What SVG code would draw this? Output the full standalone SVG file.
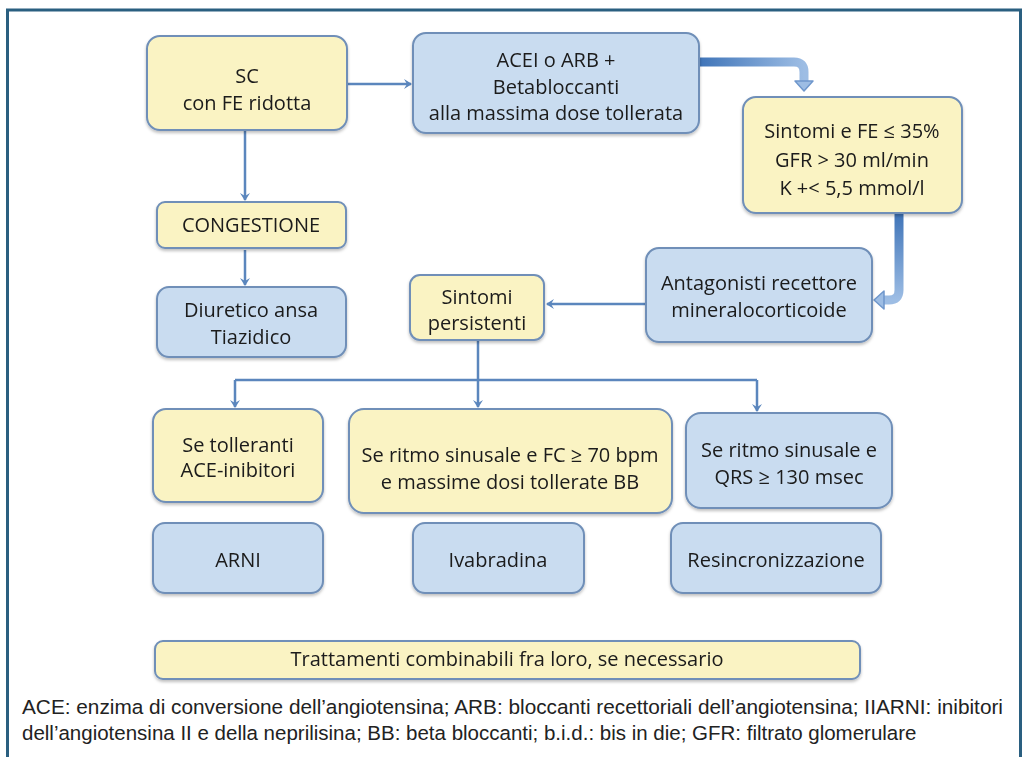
<svg xmlns="http://www.w3.org/2000/svg" width="1027" height="757" viewBox="0 0 1027 757">
<style>
.y{fill:#faf3c3;stroke:#6f8fb8;stroke-width:2}
.b{fill:#c9dcf0;stroke:#6f8fb8;stroke-width:2}
.t{font-family:"Open Sans",Lato,sans-serif;font-size:20px;fill:#1a1a1a;text-anchor:middle}
.c{font-family:"Liberation Sans",Arial,sans-serif;font-size:20.5px;fill:#222}
.ln{fill:none;stroke:#5b86bd;stroke-width:2.5}
</style>
<defs>
<filter id="sh" x="-10%" y="-10%" width="120%" height="130%">
<feDropShadow dx="0" dy="2" stdDeviation="1.5" flood-color="#000" flood-opacity="0.25"/>
</filter>
<marker id="ah" markerWidth="10" markerHeight="10" refX="7" refY="5" orient="auto" markerUnits="userSpaceOnUse">
<path d="M0,0 L8,5 L0,10 L3,5 Z" fill="#5b86bd"/>
</marker>
<linearGradient id="g1" x1="0" y1="0" x2="1" y2="0">
<stop offset="0" stop-color="#3f74b8"/><stop offset="1" stop-color="#9dbde4"/>
</linearGradient>
<linearGradient id="g2" x1="0" y1="0" x2="0" y2="1">
<stop offset="0" stop-color="#3f74b8"/><stop offset="1" stop-color="#9dbde4"/>
</linearGradient>
</defs>
<rect x="0" y="0" width="1027" height="757" fill="#fff"/>
<rect x="7.5" y="10" width="1013" height="800" fill="none" stroke="#2a5f80" stroke-width="3"/>

<g id="connectors">
<line class="ln" x1="347" y1="84" x2="411" y2="84" marker-end="url(#ah)"/>
<line class="ln" x1="245" y1="131" x2="245" y2="200" marker-end="url(#ah)"/>
<line class="ln" x1="245" y1="250" x2="245" y2="285" marker-end="url(#ah)"/>
<line class="ln" x1="646" y1="304" x2="547" y2="304" marker-end="url(#ah)"/>
<path class="ln" d="M478,340 V380 M235,380 H757"/>
<line class="ln" x1="235" y1="380" x2="235" y2="407" marker-end="url(#ah)"/>
<line class="ln" x1="478" y1="380" x2="478" y2="407" marker-end="url(#ah)"/>
<line class="ln" x1="757" y1="380" x2="757" y2="411" marker-end="url(#ah)"/>
<g id="thick1">
<path d="M699,62 H794 Q804,62 804,72 V82" fill="none" stroke="url(#g1)" stroke-width="9"/>
<path d="M795,81 H813 L804,91 Z" fill="#9dbde4" stroke="#6f97cc" stroke-width="1.5" stroke-linejoin="round"/>
</g>
<g id="thick2">
<path d="M899,213 V290 Q899,300 889,300 H883" fill="none" stroke="url(#g2)" stroke-width="9"/>
<path d="M884,291 V309 L874,300 Z" fill="#9dbde4" stroke="#6f97cc" stroke-width="1.5" stroke-linejoin="round"/>
</g>
</g>

<g id="n-sc" filter="url(#sh)">
<rect class="y" x="147" y="36" width="200" height="94" rx="13"/>
<text class="t" x="247" y="83">SC</text>
<text class="t" x="247" y="110">con FE ridotta</text>
</g>
<g id="n-acei" filter="url(#sh)">
<rect class="b" x="413" y="33" width="286" height="100" rx="13"/>
<text class="t" x="556" y="67">ACEI o ARB +</text>
<text class="t" x="556" y="94">Betabloccanti</text>
<text class="t" x="556" y="120">alla massima dose tollerata</text>
</g>
<g id="n-sintomi" filter="url(#sh)">
<rect class="y" x="743" y="97" width="219" height="116" rx="13"/>
<text class="t" x="852" y="138">Sintomi e FE ≤ 35%</text>
<text class="t" x="852" y="167">GFR &gt; 30 ml/min</text>
<text class="t" x="852" y="195">K +&lt; 5,5 mmol/l</text>
</g>
<g id="n-congestione" filter="url(#sh)">
<rect class="y" x="157" y="202" width="189" height="46" rx="8"/>
<text class="t" x="251" y="232">CONGESTIONE</text>
</g>
<g id="n-diuretico" filter="url(#sh)">
<rect class="b" x="157" y="287" width="189" height="70" rx="12"/>
<text class="t" x="251" y="317">Diuretico ansa</text>
<text class="t" x="251" y="344">Tiazidico</text>
</g>
<g id="n-persistenti" filter="url(#sh)">
<rect class="y" x="410" y="275" width="134" height="65" rx="10"/>
<text class="t" x="477" y="304">Sintomi</text>
<text class="t" x="477" y="330">persistenti</text>
</g>
<g id="n-antagonisti" filter="url(#sh)">
<rect class="b" x="646" y="248" width="226" height="94" rx="13"/>
<text class="t" x="759" y="290">Antagonisti recettore</text>
<text class="t" x="759" y="317">mineralocorticoide</text>
</g>
<g id="n-tolleranti" filter="url(#sh)">
<rect class="y" x="153" y="409" width="170" height="93" rx="13"/>
<text class="t" x="238" y="452">Se tolleranti</text>
<text class="t" x="238" y="477">ACE-inibitori</text>
</g>
<g id="n-fc" filter="url(#sh)">
<rect class="y" x="349" y="409" width="323" height="104" rx="15"/>
<text class="t" x="510" y="462">Se ritmo sinusale e FC ≥ 70 bpm</text>
<text class="t" x="510" y="489">e massime dosi tollerate BB</text>
</g>
<g id="n-qrs" filter="url(#sh)">
<rect class="b" x="686" y="413" width="206" height="95" rx="15"/>
<text class="t" x="789" y="457">Se ritmo sinusale e</text>
<text class="t" x="789" y="484">QRS ≥ 130 msec</text>
</g>
<g id="n-arni" filter="url(#sh)">
<rect class="b" x="153" y="523" width="170" height="70" rx="12"/>
<text class="t" x="238" y="567">ARNI</text>
</g>
<g id="n-ivabradina" filter="url(#sh)">
<rect class="b" x="413" y="523" width="171" height="70" rx="12"/>
<text class="t" x="498" y="567">Ivabradina</text>
</g>
<g id="n-resinc" filter="url(#sh)">
<rect class="b" x="671" y="523" width="210" height="70" rx="12"/>
<text class="t" x="776" y="567">Resincronizzazione</text>
</g>
<g id="n-trattamenti" filter="url(#sh)">
<rect class="y" x="155" y="641" width="705" height="38" rx="8"/>
<text class="t" x="507" y="666">Trattamenti combinabili fra loro, se necessario</text>
</g>
<g id="caption">
<text class="c" x="22" y="714" textLength="981" lengthAdjust="spacingAndGlyphs">ACE: enzima di conversione dell’angiotensina; ARB: bloccanti recettoriali dell’angiotensina; IIARNI: inibitori</text>
<text class="c" x="22" y="740">dell’angiotensina II e della neprilisina; BB: beta bloccanti; b.i.d.: bis in die; GFR: filtrato glomerulare</text>
</g>
</svg>
